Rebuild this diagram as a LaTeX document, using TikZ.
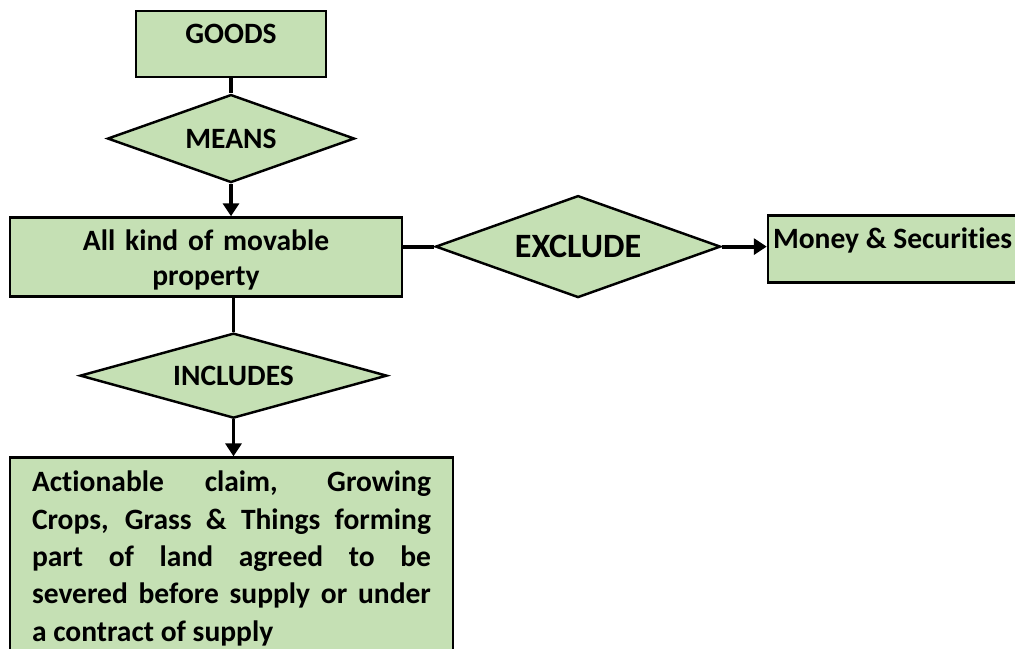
\documentclass[tikz,border=0pt]{standalone}
\usepackage{fontspec}
\setmainfont{Carlito}[Ligatures=NoCommon]
\usepackage{xcolor}
\usetikzlibrary{arrows.meta, positioning, shapes.geometric}
\definecolor{leafgreen}{RGB}{197,224,180}

\begin{document}
\begin{tikzpicture}[
  box/.style={draw=black, line width=1.5pt, fill=leafgreen, inner sep=0pt,
    font=\fontsize{16.8}{20}\selectfont\bfseries},
  decision/.style={diamond, aspect=3, draw=black, line width=1.4pt, fill=leafgreen, inner sep=0pt,
    font=\fontsize{16.8}{20}\selectfont\bfseries},
  link/.style={line width=2.2pt},
  flow/.style={line width=2.2pt, -{Triangle[length=0.26cm, width=0.32cm]}}]
  \useasboundingbox (0,0) rectangle (20.3,-12.96);

  \node[box, minimum width=3.8cm, minimum height=1.32cm, text height=0.36cm, text depth=0.4cm]
    (goods) at (4.62,-0.88) {GOODS};
  \node[decision, minimum width=4.94cm, minimum height=1.76cm, below=0.3cm of goods]
    (means) {MEANS};
  \node[box, text width=7.6cm, align=center, minimum width=7.84cm, minimum height=1.58cm,
    text height=0.36cm, text depth=0.62cm, below=0.65cm of means, xshift=-0.5cm]
    (movable) {All kind of movable\\property};
  \node[decision, minimum width=5.7cm, minimum height=2.04cm, right=0.62cm of movable, yshift=0.21cm,
    font=\fontsize{19.4}{23}\selectfont\bfseries]
    (exclude) {EXCLUDE};
  \node[box, minimum width=4.98cm, minimum height=1.34cm, text height=0.36cm, text depth=0.4cm,
    right=0.9cm of exclude, yshift=-0.05cm]
    (money) {Money \& Securities};
  \node[decision, minimum width=6.14cm, minimum height=1.7cm, below=0.68cm of movable, xshift=0.55cm]
    (includes) {INCLUDES};
  \node[box, text width=7.98cm, align=justify, inner xsep=0.44cm, inner ysep=0.32cm, text height=0.36cm,
    font=\fontsize{16.8}{21.3}\selectfont\bfseries, below=0.74cm of includes, xshift=-0.04cm]
    (claims) {Actionable claim, Growing\linebreak
      Crops, Grass \& Things forming\linebreak
      part of land agreed to be\linebreak
      severed before supply or under\linebreak
      a contract of supply};

  \draw[link] (goods) -- (means);
  \draw[flow] (means.south) -- (means.south |- movable.north);
  \draw[link] (movable.east |- exclude.west) -- (exclude.west);
  \draw[flow] (exclude.east) -- (exclude.east -| money.west);
  \draw[link] (movable.south -| includes.north) -- (includes.north);
  \draw[flow] (includes.south) -- (includes.south |- claims.north);
\end{tikzpicture}
\end{document}
